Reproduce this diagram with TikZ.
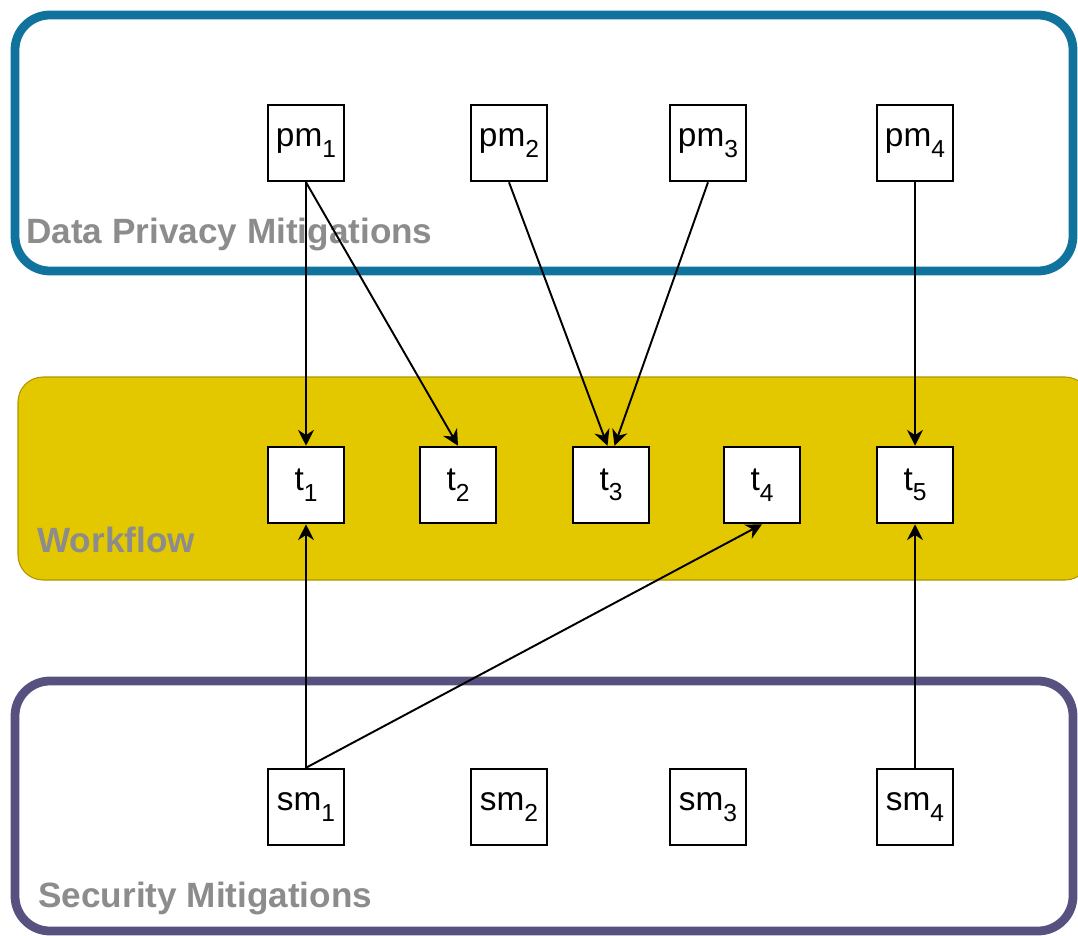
\documentclass[tikz,border=0pt]{standalone}
\usepackage{fontspec}
\setmainfont{Liberation Sans}
\usetikzlibrary{arrows.meta}

\definecolor{dpblue}{HTML}{10739E}
\definecolor{secpurple}{HTML}{56517E}
\definecolor{wfyellow}{HTML}{E3C800}
\definecolor{wfedge}{HTML}{B09500}
\definecolor{lblgray}{HTML}{8C8C8C}

\newcommand{\sbs}[1]{\raisebox{-6pt}{\fontsize{14}{14}\selectfont #1}}

\begin{document}
\begin{tikzpicture}[x=0.02cm,y=-0.02cm,
    mbox/.style={draw,line width=1.1pt,fill=white,minimum size=43.6pt,inner sep=0pt,
      font=\fontsize{19}{22}\selectfont},
    grplabel/.style={anchor=base west,inner sep=0pt,text=lblgray,
      font=\fontsize{20}{24}\selectfont\bfseries},
    conn/.style={-{Stealth[length=9pt,width=9pt]},line width=1.1pt}]
    \useasboundingbox (0,0) rectangle (1078,936);
    % groups
    \draw[dpblue,line width=5pt,rounded corners=0.7cm] (15,15) rectangle (1073,271);
    \draw[wfedge,fill=wfyellow,line width=0.6pt,rounded corners=0.5cm] (18,377) rectangle (1090,580);
    \draw[secpurple,line width=5pt,rounded corners=0.7cm] (15,681) rectangle (1073,931);
    \node[grplabel] (dplbl) at (26,243) {Data Privacy Mitigations};
    \node[grplabel] (wflbl) at (37,552) {Workflow};
    \node[grplabel] (seclbl) at (38,907) {Security Mitigations};
    % mitigations and tasks
    \foreach \i/\x in {1/306,2/509,3/708,4/915} {
        \node[mbox] (pm\i) at (\x,143) {pm\sbs{\i}};
        \node[mbox] (sm\i) at (\x,807) {sm\sbs{\i}};
    }
    \foreach \i/\x in {1/306,2/458,3/611,4/762,5/915}
        \node[mbox] (t\i) at (\x,485) {t\sbs{\i}};
    % links
    \draw[conn] (pm1.south) -- (t1.north);
    \draw[conn] (pm1.south) -- (t2.north);
    \draw[conn] (pm2.south) -- ([xshift=-2pt]t3.north);
    \draw[conn] (pm3.south) -- ([xshift=2pt]t3.north);
    \draw[conn] (pm4.south) -- (t5.north);
    \draw[conn] (sm1.north) -- (t1.south);
    \draw[conn] (sm1.north) -- (t4.south);
    \draw[conn] (sm4.north) -- (t5.south);
\end{tikzpicture}
\end{document}
